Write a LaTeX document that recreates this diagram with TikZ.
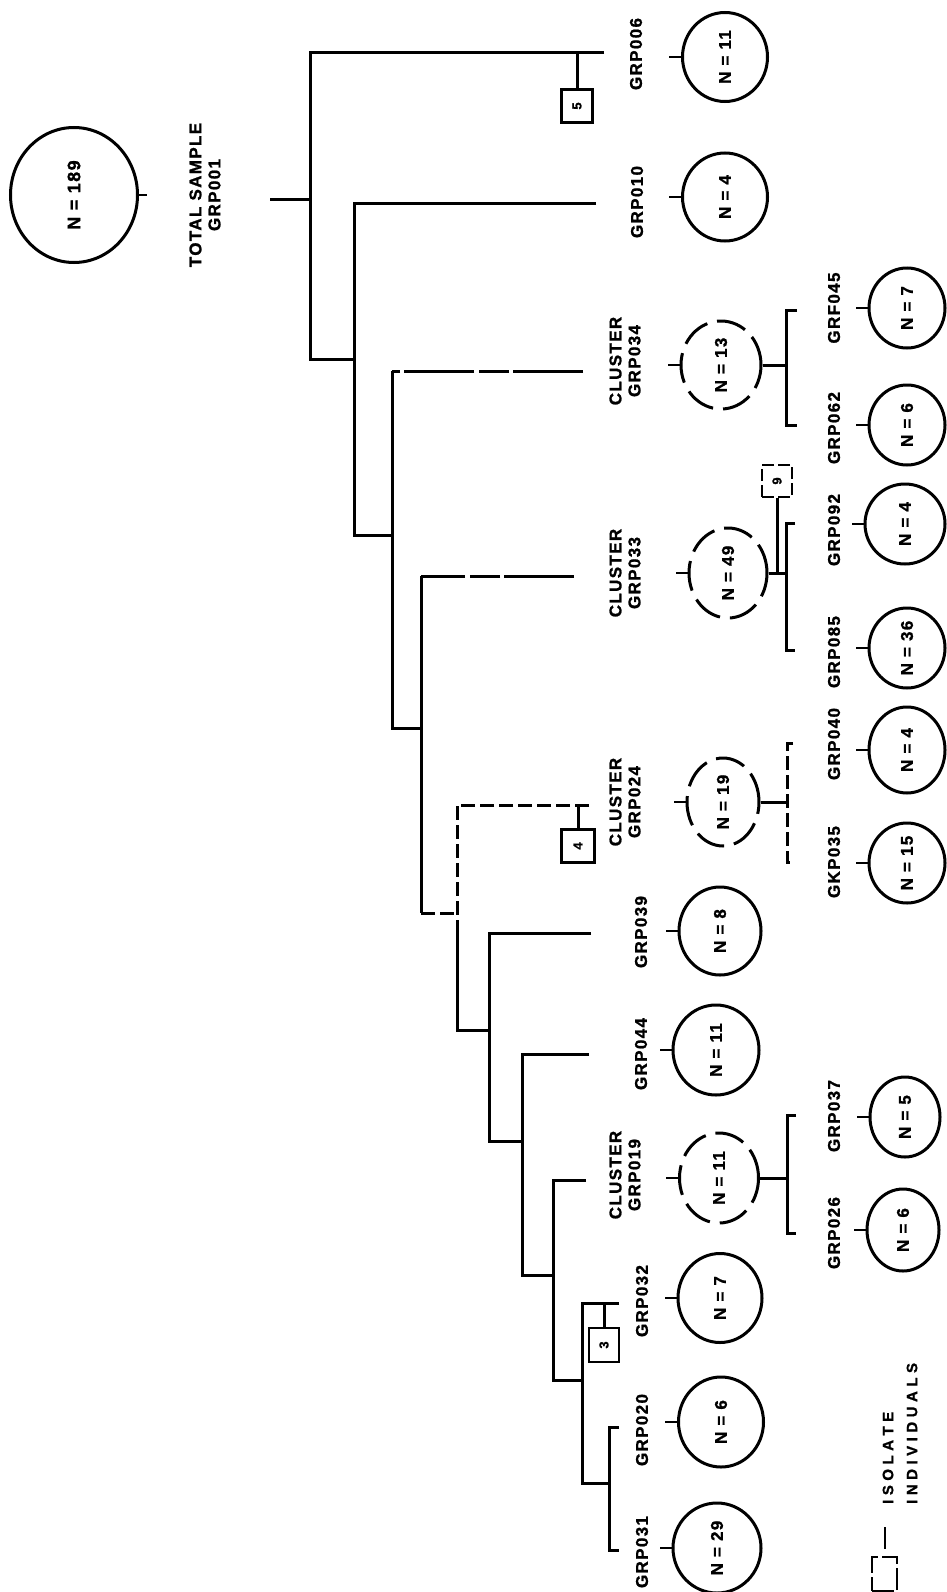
\documentclass[tikz,border=0pt]{standalone}
\usepackage{fontspec}
\usepackage{graphicx}
\usetikzlibrary{shapes.geometric}
\setmainfont{Liberation Sans}
\newfontfamily\grfam{Liberation Sans}[LetterSpace=8, BoldFeatures={FakeBold=1.2}]
\newcommand\grfont{\grfam\bfseries\fontsize{17}{19}\selectfont}
\newcommand\bigfont{\grfam\bfseries\fontsize{18}{20}\selectfont}
\newcommand\digfont{\grfam\bfseries\fontsize{13}{15}\selectfont}
\newcommand\legfont{\grfam\bfseries\fontsize{15}{18}\selectfont}
\newcommand\rtxt[1]{\rotatebox{90}{#1}}
\newcommand\lk{\kern4.5pt}
\tikzset{
  ln/.style={line width=3pt},
  brk/.style={line width=3pt, dash pattern=on 70pt off 4pt on 30pt off 5pt},
  dsh/.style={line width=3pt, dash pattern=on 14pt off 5pt},
  circ/.style={draw, ellipse, line width=3pt, inner sep=0pt, font=\grfont},
  dcirc/.style={circ, dash pattern=on 30pt off 10pt},
  lbl/.style={font=\grfont, rotate=90, align=center, inner sep=0pt},
  sbox/.style={draw, line width=2.6pt, inner sep=0pt, font=\digfont},
  tick/.style={line width=2.6pt},
  legtxt/.style={anchor=south, inner sep=0pt}
}
\begin{document}
\begin{tikzpicture}[x=1pt,y=-1pt]
\fill[white] (0,0) rectangle (947,1592);
\useasboundingbox (0,0) rectangle (947,1592);

% ---------- circles ----------
\node[circ, font=\bigfont, minimum width=127pt, minimum height=135pt] (c189) at (74,195) {\rtxt{N = 189}};
\node[circ, minimum width=85pt, minimum height=89pt] (c006) at (725,57) {\rtxt{N = 11}};
\node[circ, minimum width=85pt, minimum height=88pt] (c010) at (725,197) {\rtxt{N = 4}};
\node[dcirc, minimum width=80pt, minimum height=88pt] (c034) at (721,365) {\rtxt{N = 13}};
\node[circ, minimum width=76pt, minimum height=80pt] (c045) at (907,308) {\rtxt{N = 7}};
\node[circ, minimum width=76pt, minimum height=80pt] (c062) at (907,425) {\rtxt{N = 6}};
\node[dcirc, minimum width=78pt, minimum height=90pt] (c033) at (728,573) {\rtxt{N = 49}};
\node[circ, minimum width=80pt, minimum height=80pt] (c092) at (905,524) {\rtxt{N = 4}};
\node[circ, minimum width=76pt, minimum height=80pt] (c085) at (907,648) {\rtxt{N = 36}};
\node[dcirc, minimum width=72pt, minimum height=88pt] (c024) at (723,802) {\rtxt{N = 19}};
\node[circ, minimum width=76pt, minimum height=86pt] (c040) at (907,750) {\rtxt{N = 4}};
\node[circ, minimum width=76pt, minimum height=80pt] (c035) at (907,863) {\rtxt{N = 15}};
\node[circ, minimum width=82pt, minimum height=88pt] (c039) at (720,931) {\rtxt{N = 8}};
\node[circ, minimum width=86pt, minimum height=90pt] (c044) at (716,1050) {\rtxt{N = 11}};
\node[dcirc, minimum width=79pt, minimum height=90pt] (c019) at (719,1178) {\rtxt{N = 11}};
\node[circ, minimum width=70pt, minimum height=80pt] (c037) at (905,1117) {\rtxt{N = 5}};
\node[circ, minimum width=72pt, minimum height=82pt] (c026) at (903,1230) {\rtxt{N = 6}};
\node[circ, minimum width=84pt, minimum height=89pt] (c032) at (720,1298) {\rtxt{N = 7}};
\node[circ, minimum width=85pt, minimum height=90pt] (c020) at (721,1422) {\rtxt{N = 6}};
\node[circ, minimum width=88pt, minimum height=90pt] (c031) at (717,1548) {\rtxt{N = 29}};

% circle ticks
\draw[tick] (c189.east) -- ++(8,0);
\foreach \c in {c006,c010,c034,c045,c062,c033,c092,c085,c024,c040,c035,c039,c044,c019,c037,c026,c032,c020,c031}
  \draw[tick] (\c.west) -- ++(-12,0);

% ---------- labels ----------
\node[lbl] (l001) at (205,195) {TOTAL SAMPLE\\GRP001};
\node[lbl] (l006) at (636,54) {GRP006};
\node[lbl] (l010) at (637,202) {GRP010};
\node[lbl] (l034) at (625,361) {CLUSTER\\GRP034};
\node[lbl] (l045) at (834,308) {GRF045};
\node[lbl] (l062) at (834,428) {GRP062};
\node[lbl] (l033) at (625,573) {CLUSTER\\GRP033};
\node[lbl] (l092) at (834,530) {GRP092};
\node[lbl] (l085) at (834,652) {GRP085};
\node[lbl] (l024) at (625,802) {CLUSTER\\GRP024};
\node[lbl] (l040) at (834,744) {GRP040};
\node[lbl] (l035) at (834,862) {GKP035};
\node[lbl] (l039) at (641,932) {GRP039};
\node[lbl] (l044) at (641,1054) {GRP044};
\node[lbl] (l019) at (625,1175) {CLUSTER\\GRP019};
\node[lbl] (l037) at (834,1116) {GRP037};
\node[lbl] (l026) at (834,1233) {GRP026};
\node[lbl] (l032) at (642,1301) {GRP032};
\node[lbl] (l020) at (642,1430) {GRP020};
\node[lbl] (l031) at (642,1552) {GRP031};

% ---------- isolate boxes ----------
\node[sbox, minimum width=31pt, minimum height=33pt] (b5) at (577,106) {\rtxt{5}};
\node[sbox, dash pattern=on 12pt off 4pt, minimum width=30pt, minimum height=32pt] (b9) at (777,481) {\rtxt{9}};
\node[sbox, minimum width=33pt, minimum height=33pt] (b4) at (578,846) {\rtxt{4}};
\node[sbox, minimum width=30pt, minimum height=34pt] (b3) at (604,1345) {\rtxt{3}};

% ---------- tree coordinates ----------
\coordinate (p0) at (270,199);
\coordinate (j0t) at (310,53);   \coordinate (j0b) at (310,359);
\coordinate (j1t) at (354,203);  \coordinate (j1b) at (354,535);
\coordinate (j2t) at (392,371);  \coordinate (j2b) at (392,728);
\coordinate (j3t) at (421,576);  \coordinate (j3b) at (421,913);
\coordinate (j4t) at (457,805);  \coordinate (j4b) at (457,1030);
\coordinate (j5t) at (489,933);  \coordinate (j5b) at (489,1141);
\coordinate (j6t) at (522,1054); \coordinate (j6b) at (522,1275);
\coordinate (j7t) at (553,1180); \coordinate (j7b) at (553,1380);
\coordinate (j8t) at (582,1303); \coordinate (j8b) at (582,1483);
\coordinate (j9t) at (609,1427); \coordinate (j9b) at (609,1550);

\coordinate (t006) at (604,53);
\coordinate (t010) at (596,203);
\coordinate (t034) at (583,371);
\coordinate (t033) at (574,576);
\coordinate (t024) at (589,805);
\coordinate (t039) at (591,933);
\coordinate (t044) at (589,1054);
\coordinate (t019) at (586,1180);
\coordinate (t032) at (619,1303);

% ---------- tree ----------
\draw[ln] (p0) -- (p0 -| j0t);
\draw[ln] (t006) -- (j0t) -- (j0b) -- (j0b -| j1t);
\draw[ln] (t010) -- (j1t) -- (j1b) -- (j1b -| j2t);
\draw[brk] (t034) -- (j2t);
\draw[ln] (j2t) -- (j2b) -- (j2b -| j3t);
\draw[brk] (t033) -- (j3t);
\draw[ln] (j3t) -- (j3b);
\draw[dsh] (j3b) -- (j3b -| j4t);
\draw[dsh] (t024) -- (j4t) -- (j4t |- j5t);
\draw[ln] (j4t |- j5t) -- (j4b) -- (j4b -| j5t);
\draw[ln] (t039) -- (j5t) -- (j5b) -- (j5b -| j6t);
\draw[ln] (t044) -- (j6t) -- (j6b) -- (j6b -| j7t);
\draw[ln] (t019) -- (j7t) -- (j7b) -- (j7b -| j8t);
\draw[ln] (t032) -- (j8t) -- (j8b) -- (j8b -| j9t);
\draw[ln] ([xshift=10pt]j9t) -- (j9t) -- (j9b) -- ([xshift=10pt]j9b);

% isolate stems
\draw[ln] (b5.north) -- (b5.north |- t006);
\draw[ln] (b4.north) -- (b4.north |- t024);
\draw[ln] (b3.north) -- (b3.north |- t032);

% ---------- sub-clusters ----------
% GRP034
\coordinate (s034t) at (786,310); \coordinate (s034b) at (786,425);
\draw[ln] (c034.east) -- (c034.east -| s034t);
\draw[ln] ([xshift=11pt]s034t) -- (s034t) -- (s034b) -- ([xshift=11pt]s034b);
% GRP033
\coordinate (s033t) at (786,523); \coordinate (s033b) at (786,650);
\draw[ln] (c033.east) -- (c033.east -| s033t);
\draw[ln] ([xshift=9pt]s033t) -- (s033t) -- (s033b) -- ([xshift=9pt]s033b);
\draw[ln] (b9.south) -- (b9.south |- c033.east);
% GRP024
\coordinate (s024t) at (787,743); \coordinate (s024b) at (787,862);
\draw[ln] (c024.east) -- (c024.east -| s024t);
\draw[dsh] ([xshift=6pt]s024t) -- (s024t) -- (s024b) -- ([xshift=6pt]s024b);
% GRP019
\coordinate (s019t) at (787,1115); \coordinate (s019b) at (787,1233);
\draw[ln] (c019.east) -- (c019.east -| s019t);
\draw[ln] ([xshift=9pt]s019t) -- (s019t) -- (s019b) -- ([xshift=9pt]s019b);

% ---------- legend ----------
\node[draw, line width=2pt, dash pattern=on 22pt off 4pt, minimum width=25pt, minimum height=34pt, inner sep=0pt] (lgbox) at (884,1574) {};
\coordinate (lga) at (885,1527); \coordinate (lgb) at (885,1549);
\draw[line width=2pt] (lga) -- (lgb);
\node[legtxt] (lgt1) at (888,1504) {\rtxt{\legfont I\lk S\lk O\lk L\lk A\lk T\lk E}};
\node[legtxt] (lgt2) at (912,1504) {\rtxt{\legfont I\lk N\lk D\lk I\lk V\lk I\lk D\lk U\lk A\lk L\lk S}};
\end{tikzpicture}
\end{document}
